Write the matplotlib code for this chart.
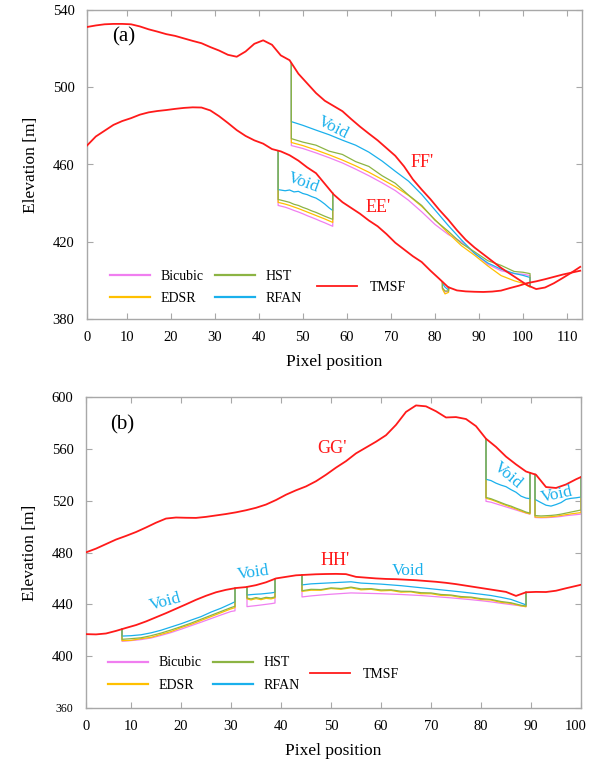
import numpy as np
import matplotlib
matplotlib.use("Agg")
import matplotlib.pyplot as plt
from matplotlib.transforms import ScaledTranslation

plt.rcParams['font.family'] = ['Liberation Serif', 'DejaVu Serif']

C_BIC = '#f07ef0'
C_EDSR = '#ffc000'
C_HST = '#8cb444'
C_RFAN = '#1ab0ec'
C_TMSF = '#ff1a1a'
C_GRID = '#a8a8a8'

METHODS = ['Bicubic', 'EDSR', 'RFAN', 'HST']
COLORS = {'Bicubic': C_BIC, 'EDSR': C_EDSR, 'RFAN': C_RFAN, 'HST': C_HST}

# ---------------- (a) profiles EE' and FF' ----------------
xa = np.arange(1, 114, 2)
ff_tmsf = [531.2, 532.0, 532.6, 532.8, 532.8, 532.6, 531.5, 530.0, 528.8, 527.5,
           526.6, 525.3, 524.0, 522.8, 520.8, 519.0, 516.8, 515.8, 518.5, 522.5,
           524.3, 522.0, 516.5, 514.0, 507.0, 502.0, 497.0, 493.0, 490.3, 487.6,
           483.5, 479.6, 476.0, 472.5, 468.5, 464.5, 459.0, 452.3, 447.0, 442.0,
           436.5, 431.5, 426.0, 421.0, 417.0, 413.5, 410.0, 406.5, 403.5, 400.5,
           397.5, 395.5, 396.3, 398.5, 401.2, 404.0, 407.0]
ee_tmsf = [469.8, 474.5, 477.5, 480.5, 482.5, 484.0, 485.8, 487.0, 487.7, 488.2,
           488.8, 489.3, 489.6, 489.5, 488.0, 485.0, 481.5, 477.8, 474.8, 472.5,
           470.8, 468.0, 466.8, 464.8, 462.0, 458.5, 455.5, 450.0, 444.5, 440.5,
           437.5, 434.5, 431.0, 428.0, 424.0, 419.5, 416.0, 412.5, 409.5, 405.0,
           400.8, 396.5, 394.8, 394.3, 394.1, 394.0, 394.2, 394.7, 396.0, 397.2,
           398.6, 399.5, 400.6, 401.8, 403.0, 404.0, 405.0]

# void on FF'
ff_void_x = [47.4, 50, 53, 56, 59, 62, 65, 68, 71, 74, 77, 80, 83, 86, 89, 92, 95, 98, 100, 101.6]
ff_void = {
    'RFAN':    [482.2, 480.3, 477.8, 475.4, 472.6, 470.0, 466.4, 461.8, 456.5, 451.4,
                444.5, 436.5, 428.5, 421.0, 414.0, 409.0, 405.8, 403.6, 402.6, 401.5],
    'HST':     [473.4, 471.6, 470.0, 466.9, 465.2, 461.5, 459.0, 454.2, 450.3, 444.2,
                438.8, 431.2, 425.5, 419.2, 414.8, 410.2, 407.8, 404.6, 404.2, 403.5],
    'EDSR':    [471.4, 469.8, 467.5, 465.0, 462.3, 459.3, 456.0, 452.3, 448.5, 444.0,
                438.3, 431.5, 424.5, 418.0, 413.0, 407.5, 402.5, 399.8, 398.5, 396.5],
    'Bicubic': [469.8, 468.3, 466.0, 463.5, 460.8, 457.6, 454.2, 450.5, 446.5, 441.5,
                435.5, 429.0, 423.8, 420.0, 414.0, 408.3, 405.0, 403.5, 403.2, 402.5],
}
# voids on EE'
ee_void_x = [44.4, 46, 47, 48, 49, 50, 51, 52, 53, 54, 55, 56, 56.8]
ee_void = {
    'RFAN':    [447.0, 446.4, 446.8, 445.8, 446.1, 445.0, 444.4, 443.4, 442.6, 441.2, 439.5, 437.5, 436.2],
    'HST':     [441.9, 441.0, 440.4, 439.4, 438.8, 437.8, 437.0, 436.0, 435.2, 434.2, 433.2, 432.3, 431.6],
    'EDSR':    [440.4, 439.5, 438.8, 438.0, 437.2, 436.3, 435.4, 434.5, 433.6, 432.7, 431.8, 430.8, 430.0],
    'Bicubic': [438.8, 437.9, 437.1, 436.2, 435.4, 434.5, 433.5, 432.6, 431.7, 430.7, 429.8, 428.8, 428.0],
}
ee_void2_x = [81.7, 82.3, 83.1]
ee_void2 = {
    'RFAN':    [398.5, 396.5, 395.0],
    'HST':     [396.0, 394.5, 394.5],
    'EDSR':    [395.5, 393.0, 393.8],
    'Bicubic': [396.5, 394.0, 394.5],
}

# ---------------- (b) profiles GG' and HH' ----------------
xb = np.arange(1, 102, 2)
gg_tmsf = [480.1, 483.0, 486.5, 490.0, 492.8, 495.8, 499.3, 503.0, 506.2, 507.0,
           506.8, 506.7, 507.5, 508.6, 509.7, 511.0, 512.6, 514.5, 517.0, 520.5,
           524.6, 528.0, 531.0, 535.0, 540.0, 545.5, 550.5, 556.5, 561.0, 565.5,
           570.5, 578.5, 588.5, 593.5, 592.8, 589.0, 584.2, 584.5, 583.0, 577.5,
           567.8, 561.5, 554.0, 548.0, 542.5, 540.0, 530.5, 529.8, 532.5, 536.5,
           540.0]
hh_tmsf = [417.0, 416.8, 417.5, 419.5, 421.8, 424.0, 426.8, 430.0, 433.2, 436.6,
           440.0, 443.5, 446.6, 449.3, 451.2, 452.6, 453.3, 454.8, 457.0, 460.0,
           461.2, 462.4, 462.8, 463.2, 463.4, 463.5, 463.3, 461.2, 460.6, 460.0,
           459.6, 459.4, 459.0, 458.6, 458.0, 457.4, 456.6, 455.6, 454.4, 453.2,
           452.0, 450.8, 449.6, 446.5, 449.3, 449.6, 449.5, 450.5, 452.4, 454.2,
           456.0]

gg_void1_x = [81.0, 82, 83, 84, 85, 86, 87, 88, 89, 89.8]
gg_void1 = {
    'RFAN':    [536.5, 535.5, 533.5, 532.0, 530.8, 528.5, 526.5, 523.5, 522.0, 521.5],
    'HST':     [522.5, 521.5, 520.0, 518.5, 517.0, 515.8, 514.2, 512.8, 511.2, 510.4],
    'EDSR':    [521.8, 520.8, 519.4, 517.8, 516.4, 515.0, 513.6, 512.0, 510.6, 509.8],
    'Bicubic': [519.5, 518.8, 517.6, 516.4, 515.2, 514.0, 512.8, 511.6, 510.4, 509.6],
}
gg_void2_x = [90.8, 92, 93, 94, 95, 96, 97, 98, 99, 100]
gg_void2 = {
    'RFAN':    [521.0, 518.5, 516.5, 515.8, 517.0, 518.5, 521.0, 521.8, 522.2, 522.8],
    'HST':     [508.5, 508.2, 508.4, 508.6, 509.0, 509.6, 510.4, 511.2, 512.0, 512.8],
    'EDSR':    [507.4, 507.2, 507.3, 507.6, 508.0, 508.6, 509.2, 509.8, 510.3, 510.8],
    'Bicubic': [507.0, 506.8, 506.9, 507.1, 507.4, 507.8, 508.4, 508.8, 509.2, 509.6],
}
hh_void1_x = [8.2, 10, 12, 14, 16, 18, 20, 22, 24, 26, 28, 30, 30.8]
hh_void1 = {
    'RFAN':    [415.5, 415.8, 416.5, 418.0, 420.0, 422.5, 425.0, 427.8, 430.5, 434.0, 437.0, 440.5, 442.0],
    'HST':     [413.0, 413.5, 414.2, 415.8, 417.8, 420.2, 422.8, 425.5, 428.5, 431.5, 434.5, 437.5, 438.5],
    'EDSR':    [412.0, 412.2, 413.5, 414.5, 416.8, 419.0, 422.0, 424.5, 427.5, 430.5, 433.5, 436.5, 437.5],
    'Bicubic': [411.5, 412.0, 412.8, 414.0, 416.0, 418.2, 420.8, 423.5, 426.2, 429.0, 431.8, 434.5, 435.0],
}
hh_void2_x = [33.2, 34, 35, 36, 37, 38, 38.8]
hh_void2 = {
    'RFAN':    [447.2, 447.5, 447.8, 448.0, 448.4, 448.8, 449.3],
    'HST':     [444.9, 444.2, 445.2, 444.4, 445.4, 445.0, 445.7],
    'EDSR':    [444.2, 443.4, 444.4, 443.6, 444.6, 444.2, 445.0],
    'Bicubic': [438.2, 438.6, 439.0, 439.5, 440.0, 440.5, 441.0],
}
hh_void3_x = [44.2, 46, 48, 50, 52, 54, 56, 58, 60, 62, 64, 66, 68, 70, 72, 74, 76, 78, 80, 82, 84, 86, 88, 89]
hh_void3 = {
    'RFAN':    [455.0, 455.8, 456.2, 456.6, 457.0, 457.4, 456.4, 456.0, 455.6, 455.0, 454.4, 453.6,
                452.8, 452.0, 451.2, 450.4, 449.6, 448.7, 447.8, 446.8, 445.4, 443.8, 441.0, 439.6],
    'HST':     [450.5, 451.6, 451.4, 452.7, 452.2, 453.3, 451.9, 452.1, 451.1, 451.2, 450.1, 450.0,
                449.0, 448.8, 447.6, 447.2, 446.0, 445.6, 444.4, 443.8, 442.2, 441.2, 439.3, 438.7],
    'EDSR':    [450.0, 450.9, 450.9, 452.2, 451.6, 452.8, 451.2, 451.6, 450.4, 450.7, 449.4, 449.6,
                448.2, 448.2, 446.9, 446.7, 445.3, 445.1, 443.7, 443.3, 441.5, 440.7, 438.8, 438.2],
    'Bicubic': [445.7, 446.5, 447.2, 447.8, 448.3, 448.8, 448.6, 448.4, 448.2, 447.9, 447.6, 447.2,
                446.8, 446.2, 445.6, 445.0, 444.3, 443.6, 442.8, 441.9, 440.8, 439.8, 438.8, 438.2],
}


def draw_void(ax, base_x, base_y, vx, vals):
    """Draw each method across a void, dropping from and rising back to the TMSF profile."""
    y_left = np.interp(vx[0], base_x, base_y)
    y_right = np.interp(vx[-1], base_x, base_y)
    handles = {}
    for name in METHODS:
        xs = [vx[0]] + list(vx) + [vx[-1]]
        ys = [y_left] + list(vals[name]) + [y_right]
        ln, = ax.plot(xs, ys, color=COLORS[name], lw=0.9, zorder=2)
        handles[name] = ln
    return handles


def style_axes(ax):
    for sp in ax.spines.values():
        sp.set_color(C_GRID)
        sp.set_linewidth(1.0)
    ax.tick_params(direction='in', length=4, width=0.8, color=C_GRID,
                   top=True, right=True, labelsize=10.5, pad=9)


def add_legend(ax, h, tm, x4, xt, yc):
    leg1 = ax.legend([h['Bicubic'], h['EDSR'], h['HST'], h['RFAN']],
                     ['Bicubic', 'EDSR', 'HST', 'RFAN'], ncol=2,
                     loc='center left', bbox_to_anchor=(x4, yc), frameon=False,
                     fontsize=10, handlelength=2.9, handletextpad=0.75,
                     columnspacing=0.8, labelspacing=0.65, borderpad=0,
                     borderaxespad=0)
    for lh in leg1.legend_handles:
        lh.set_linewidth(1.6)
    ax.add_artist(leg1)
    ax.legend([tm], ['TMSF'], loc='center left', bbox_to_anchor=(xt, yc),
              frameon=False, fontsize=10, handlelength=2.9, handletextpad=0.9,
              borderpad=0, borderaxespad=0)


fig = plt.figure(figsize=(5.9, 7.68), dpi=100)

# ---- panel (a)
ax1 = fig.add_axes([87 / 590, 1 - 319 / 768, 495 / 590, 309 / 768])
h = draw_void(ax1, xa, ff_tmsf, ff_void_x, ff_void)
draw_void(ax1, xa, ee_tmsf, ee_void_x, ee_void)
draw_void(ax1, xa, ee_tmsf, ee_void2_x, ee_void2)
tm, = ax1.plot(xa, ff_tmsf, color=C_TMSF, lw=1.3, zorder=3)
ax1.plot(xa, ee_tmsf, color=C_TMSF, lw=1.3, zorder=3)
ax1.set_xlim(1, 113.4)
ax1.set_ylim(380, 540)
ax1.set_yticks(np.arange(380, 541, 40))
ax1.set_xticks([1] + list(range(10, 111, 10)))
ax1.set_xticklabels(['0'] + [str(v) for v in range(10, 111, 10)])
style_axes(ax1)
ax1.set_xlabel('Pixel position', fontsize=12.5, labelpad=7)
ax1.set_ylabel('Elevation [m]', fontsize=12.5, labelpad=10)
ax1.text(9.4, 526, '(a)', fontsize=15, ha='center', va='center')
ax1.text(77.1, 461, "FF'", color=C_TMSF, fontsize=13, ha='center', va='center')
ax1.text(67.1, 437.8, "EE'", color=C_TMSF, fontsize=13, ha='center', va='center')
ax1.text(56.9, 479.1, 'Void', color=C_RFAN, fontsize=12.5, ha='center', va='center', rotation=-27)
ax1.text(50.1, 450.7, 'Void', color=C_RFAN, fontsize=12.5, ha='center', va='center', rotation=-20)
add_legend(ax1, h, tm, (110 - 87) / 495, (317 - 87) / 495, (319 - 287.5) / 309)

# ---- panel (b)
ax2 = fig.add_axes([86 / 590, 1 - 708 / 768, 495 / 590, 311 / 768])
h = draw_void(ax2, xb, gg_tmsf, gg_void1_x, gg_void1)
draw_void(ax2, xb, gg_tmsf, gg_void2_x, gg_void2)
draw_void(ax2, xb, hh_tmsf, hh_void1_x, hh_void1)
draw_void(ax2, xb, hh_tmsf, hh_void2_x, hh_void2)
draw_void(ax2, xb, hh_tmsf, hh_void3_x, hh_void3)
tm, = ax2.plot(xb, gg_tmsf, color=C_TMSF, lw=1.3, zorder=3)
ax2.plot(xb, hh_tmsf, color=C_TMSF, lw=1.3, zorder=3)
ax2.set_xlim(1, 100)
ax2.set_ylim(360, 600)
ax2.set_yticks(np.arange(360, 601, 40))
ax2.set_xticks([1] + list(range(10, 101, 10)))
ax2.set_xticklabels(['0'] + [str(v) for v in range(10, 101, 10)])
style_axes(ax2)
ax2.get_yticklabels()[0].set_fontsize(8.5)
# keep the last tick label inside the figure
last = ax2.get_xticklabels()[-1]
last.set_transform(last.get_transform() + ScaledTranslation(-5 / 100, 0, fig.dpi_scale_trans))
ax2.set_xlabel('Pixel position', fontsize=12.5, labelpad=7)
ax2.set_ylabel('Elevation [m]', fontsize=12.5, labelpad=10)
ax2.text(8.2, 578.4, '(b)', fontsize=15, ha='center', va='center')
ax2.text(50.2, 559.9, "GG'", color=C_TMSF, fontsize=13, ha='center', va='center')
ax2.text(50.8, 474.2, "HH'", color=C_TMSF, fontsize=13, ha='center', va='center')
ax2.text(16.8, 441.8, 'Void', color=C_RFAN, fontsize=12.5, ha='center', va='center', rotation=15)
ax2.text(34.4, 464.0, 'Void', color=C_RFAN, fontsize=12.5, ha='center', va='center', rotation=8)
ax2.text(65.4, 465.7, 'Void', color=C_RFAN, fontsize=12.5, ha='center', va='center')
ax2.text(85.4, 539.8, 'Void', color=C_RFAN, fontsize=12.5, ha='center', va='center', rotation=-40)
ax2.text(95.2, 524.4, 'Void', color=C_RFAN, fontsize=12.5, ha='center', va='center', rotation=12)
add_legend(ax2, h, tm, (108 - 86) / 495, (310 - 86) / 495, (708 - 674) / 311)

fig.savefig('out.png', dpi=100)
